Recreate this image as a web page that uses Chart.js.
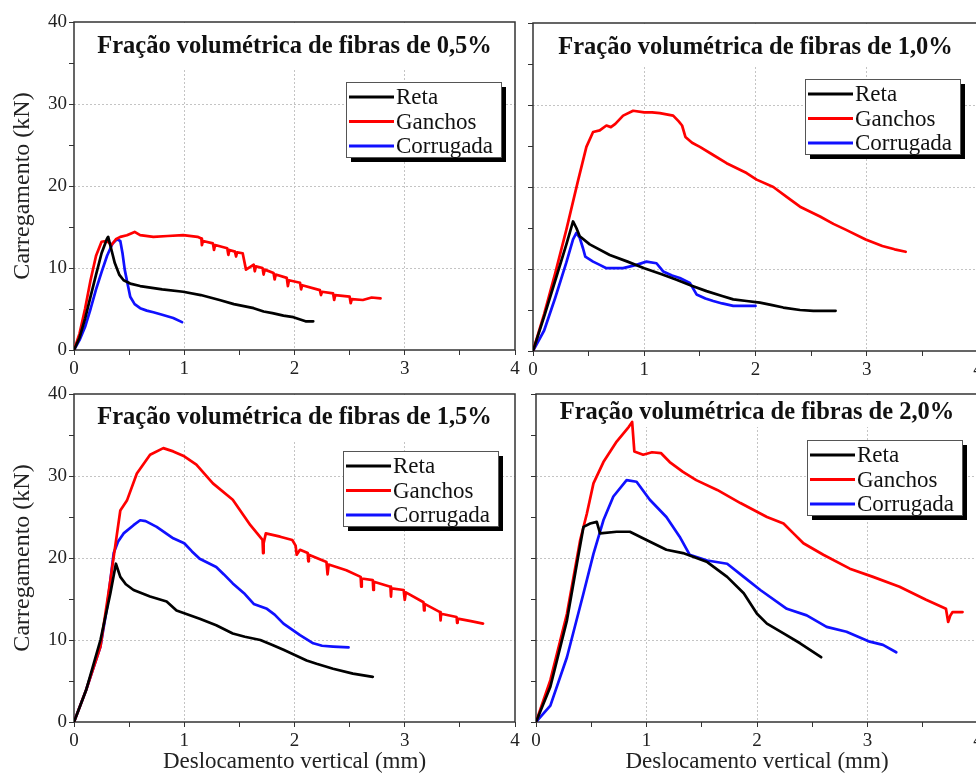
<!DOCTYPE html>
<html>
<head>
<meta charset="utf-8">
<script src="https://cdn.jsdelivr.net/npm/chart.js@4"></script>
<style>
  html, body { margin: 0; padding: 0; background: #fff; overflow: hidden; }
  #wrap { position: relative; width: 976px; height: 780px; overflow: hidden; }
  #wrap canvas { position: absolute; }
</style>
</head>
<body>
<div id="wrap">
  <canvas id="c05" width="530" height="385" style="left:0;top:0"></canvas>
  <canvas id="c10" width="460" height="385" style="left:520px;top:0"></canvas>
  <canvas id="c15" width="530" height="395" style="left:0;top:385px"></canvas>
  <canvas id="c20" width="460" height="395" style="left:520px;top:385px"></canvas>
</div>
<script>
// series names and colours
const seriesNames = ['Reta', 'Ganchos', 'Corrugada'];
const seriesColors = ['#000000', '#ff0000', '#1010ff'];

// [deslocamento (mm), carga (kN)] — 0,5%
const reta05 = [[0,0],[0.05,1.5],[0.1,3.8],[0.15,6.5],[0.2,9.2],[0.25,11.8],[0.3,13.6],[0.31,13.8],[0.34,12.2],[0.37,10.6],[0.41,9.2],[0.45,8.5],[0.51,8.1],[0.6,7.8],[0.8,7.4],[0.99,7.1],[1.15,6.7],[1.32,6.1],[1.45,5.6],[1.63,5.1],[1.72,4.7],[1.8,4.5],[1.9,4.2],[1.99,4.0],[2.1,3.5],[2.17,3.5]];
const ganchos05 = [[0,0],[0.05,2],[0.1,5],[0.15,8.5],[0.2,11.5],[0.25,13.2],[0.3,13.3],[0.34,12.8],[0.38,13.5],[0.42,13.8],[0.48,14.0],[0.55,14.4],[0.6,14.0],[0.72,13.8],[0.85,13.9],[0.99,14.0],[1.12,13.8],[1.155,13.6],[1.16,12.8],[1.17,13.3],[1.26,13.0],[1.27,12.2],[1.28,12.8],[1.39,12.4],[1.40,11.6],[1.41,12.2],[1.46,12.0],[1.47,11.4],[1.48,11.9],[1.53,11.8],[1.56,9.8],[1.63,10.4],[1.64,9.6],[1.65,10.2],[1.71,10.0],[1.72,9.2],[1.73,9.8],[1.81,9.4],[1.82,8.6],[1.83,9.2],[1.93,8.8],[1.94,7.8],[1.95,8.5],[2.05,8.2],[2.06,7.4],[2.07,7.9],[2.23,7.3],[2.24,6.7],[2.25,7.1],[2.35,6.9],[2.36,6.1],[2.37,6.7],[2.5,6.5],[2.51,5.7],[2.52,6.2],[2.62,6.1],[2.7,6.4],[2.78,6.3]];
const corrugada05 = [[0,0],[0.05,1.2],[0.1,2.8],[0.15,5],[0.2,7.4],[0.25,9.5],[0.3,11.5],[0.35,13],[0.39,13.5],[0.42,13.3],[0.44,11.8],[0.46,9.8],[0.49,7.8],[0.51,6.5],[0.55,5.6],[0.6,5.1],[0.66,4.8],[0.72,4.6],[0.8,4.3],[0.9,3.9],[0.98,3.4]];

// 1,0%
const reta10 = [[0,0],[0.1,4.2],[0.2,8.6],[0.3,13],[0.36,15.8],[0.39,15],[0.42,14],[0.51,13],[0.69,11.7],[0.85,10.9],[1.0,10.1],[1.15,9.4],[1.29,8.7],[1.42,8],[1.56,7.3],[1.7,6.7],[1.8,6.3],[1.92,6.1],[2.04,5.9],[2.15,5.6],[2.25,5.3],[2.4,5.0],[2.52,4.9],[2.72,4.9]];
const ganchos10 = [[0,0],[0.1,4.5],[0.2,9.5],[0.3,14.8],[0.4,20.5],[0.48,24.9],[0.54,26.7],[0.6,26.9],[0.66,27.5],[0.7,27.3],[0.74,27.7],[0.81,28.7],[0.9,29.3],[1.0,29.1],[1.07,29.1],[1.14,29.0],[1.26,28.7],[1.31,28.0],[1.34,27.5],[1.37,26.1],[1.43,25.4],[1.5,24.9],[1.62,23.9],[1.74,22.9],[1.92,21.7],[2.01,20.9],[2.16,20.0],[2.28,18.8],[2.4,17.6],[2.58,16.4],[2.7,15.5],[2.81,14.8],[2.99,13.6],[3.14,12.8],[3.25,12.4],[3.35,12.1]];
const corrugada10 = [[0,0],[0.1,2.5],[0.2,6.5],[0.3,10.8],[0.36,13.6],[0.39,14.4],[0.42,13.8],[0.45,12.5],[0.47,11.5],[0.54,10.9],[0.6,10.5],[0.66,10.1],[0.81,10.1],[0.93,10.5],[1.02,10.9],[1.11,10.7],[1.17,9.7],[1.25,9.2],[1.32,8.9],[1.41,8.3],[1.47,6.9],[1.55,6.4],[1.62,6.1],[1.7,5.8],[1.8,5.5],[1.9,5.5],[2.0,5.5]];

// 1,5%
const reta15 = [[0,0],[0.11,3.9],[0.24,10],[0.33,15.7],[0.38,19.3],[0.42,17.7],[0.47,16.8],[0.54,16.1],[0.69,15.3],[0.84,14.7],[0.93,13.6],[1.14,12.6],[1.29,11.8],[1.44,10.8],[1.55,10.4],[1.69,10.0],[1.8,9.4],[1.9,8.8],[2.11,7.5],[2.2,7.1],[2.35,6.5],[2.53,5.9],[2.71,5.5]];
const ganchos15 = [[0,0],[0.11,3.9],[0.24,9.2],[0.33,17.3],[0.42,25.8],[0.48,27],[0.57,30.3],[0.69,32.6],[0.81,33.4],[0.9,33.0],[1.0,32.4],[1.11,31.4],[1.26,29.1],[1.44,27.1],[1.6,24.0],[1.71,22.2],[1.715,20.6],[1.72,21.8],[1.74,23.0],[1.87,22.6],[1.98,22.2],[2.01,21.5],[2.02,20.4],[2.05,21.0],[2.12,20.6],[2.125,19.6],[2.13,20.4],[2.29,19.5],[2.3,18.0],[2.31,19.2],[2.47,18.5],[2.6,17.7],[2.605,16.5],[2.61,17.5],[2.71,17.3],[2.715,16.1],[2.72,17.1],[2.87,16.5],[2.875,15.3],[2.88,16.3],[2.99,16.1],[3.0,14.9],[3.01,15.8],[3.17,14.6],[3.175,13.6],[3.18,14.4],[3.32,13.4],[3.325,12.4],[3.33,13.2],[3.47,12.8],[3.475,12.1],[3.48,12.6],[3.6,12.3],[3.71,12.0]];
const corrugada15 = [[0,0],[0.11,3.9],[0.24,9.2],[0.3,14],[0.36,20.6],[0.4,22],[0.45,23],[0.54,24],[0.6,24.6],[0.65,24.5],[0.75,23.8],[0.9,22.4],[1.0,21.8],[1.07,20.8],[1.14,19.9],[1.29,18.9],[1.36,18],[1.44,16.9],[1.55,15.6],[1.63,14.4],[1.75,13.8],[1.82,13.1],[1.9,12.0],[2.05,10.6],[2.17,9.6],[2.25,9.3],[2.35,9.2],[2.49,9.1]];

// 2,0%
const reta20 = [[0,0],[0.13,4.3],[0.28,12.4],[0.37,19.3],[0.43,23.8],[0.49,24.2],[0.55,24.4],[0.58,23.0],[0.73,23.2],[0.85,23.2],[1.0,22.2],[1.18,21.0],[1.33,20.6],[1.55,19.5],[1.73,17.7],[1.88,15.7],[2.0,13.2],[2.09,12.0],[2.24,10.8],[2.39,9.6],[2.58,7.9]];
const ganchos20 = [[0,0],[0.13,5.1],[0.28,13.2],[0.4,22.2],[0.46,25.4],[0.52,29.1],[0.61,31.7],[0.73,34.2],[0.84,36.0],[0.87,36.6],[0.89,33.0],[0.97,32.6],[1.05,32.9],[1.13,32.8],[1.21,31.7],[1.33,30.5],[1.45,29.5],[1.64,28.3],[1.85,26.7],[2.09,25.0],[2.24,24.2],[2.33,23.0],[2.42,21.8],[2.6,20.4],[2.84,18.7],[3.05,17.7],[3.29,16.5],[3.53,14.9],[3.71,13.8],[3.73,12.2],[3.75,13.0],[3.77,13.4],[3.86,13.4]];
const corrugada20 = [[0,0],[0.13,2.0],[0.28,7.9],[0.43,15.7],[0.52,20.5],[0.61,24.6],[0.7,27.5],[0.82,29.5],[0.91,29.3],[1.03,27.1],[1.18,25.0],[1.3,22.6],[1.39,20.4],[1.55,19.7],[1.73,19.3],[1.88,17.7],[2.03,16.1],[2.27,13.8],[2.45,13.0],[2.63,11.6],[2.81,11.0],[3.02,9.8],[3.14,9.4],[3.26,8.5]];

const FONT = "'Liberation Serif', 'Times New Roman', serif";
Chart.defaults.font.family = FONT;
Chart.defaults.color = '#222';

// frame, title band and boxed legend with drop shadow
const panelDeco = {
  id: 'panelDeco',
  beforeDatasetsDraw(chart, args, o) {
    const {ctx, chartArea: a} = chart;
    ctx.save();
    ctx.fillStyle = '#fff';
    ctx.fillRect(a.left + 1, a.top + 1, a.right - a.left - 2, o.band);
    ctx.strokeStyle = '#333';
    ctx.lineWidth = 1.5;
    ctx.strokeRect(a.left, a.top, a.right - a.left, a.bottom - a.top);
    ctx.restore();
  },
  afterDatasetsDraw(chart, args, o) {
    const {ctx, chartArea: a} = chart;
    ctx.save();
    ctx.font = 'bold 24.5px ' + FONT;
    ctx.fillStyle = '#111';
    ctx.textAlign = 'center';
    ctx.textBaseline = 'middle';
    ctx.fillText(o.text, (a.left + a.right) / 2, a.top + o.titleY);

    const w = 155, h = 75;
    const x = a.right - o.legendRight - w;
    const y = a.top + o.legendTop;
    ctx.fillStyle = '#000';
    ctx.fillRect(x + 5, y + 5, w, h);
    ctx.fillStyle = '#fff';
    ctx.fillRect(x, y, w, h);
    ctx.strokeStyle = '#555';
    ctx.lineWidth = 1;
    ctx.strokeRect(x + 0.5, y + 0.5, w, h);
    ctx.font = '23px ' + FONT;
    ctx.textAlign = 'left';
    chart.data.datasets.forEach((ds, i) => {
      const ly = y + 15 + i * 24.5;
      ctx.strokeStyle = ds.borderColor;
      ctx.lineWidth = 3;
      ctx.beginPath();
      ctx.moveTo(x + 3, ly);
      ctx.lineTo(x + 48, ly);
      ctx.stroke();
      ctx.fillStyle = '#111';
      ctx.fillText(ds.label, x + 50, ly + 1);
    });
    ctx.restore();
  }
};

function gridColor(step, lo, hi) {
  return c => {
    const v = c.tick ? c.tick.value : NaN;
    return (v % step === 0 && v > lo && v < hi) ? '#c4c4c4' : 'rgba(0,0,0,0)';
  };
}

function drawPanel(p) {
  const datasets = [p.reta, p.ganchos, p.corrugada].map((pts, i) => ({
    label: seriesNames[i],
    data: pts.map(([x, y]) => ({x, y})),
    borderColor: seriesColors[i],
    borderWidth: 2.7,
    borderJoinStyle: 'round',
    borderCapStyle: 'round',
    showLine: true,
    pointRadius: 0,
    tension: 0
  }));
  new Chart(document.getElementById(p.id), {
    type: 'scatter',
    data: {datasets},
    options: {
      responsive: false,
      animation: false,
      layout: {padding: {top: p.padTop, right: p.padRight, left: 0, bottom: 0}},
      plugins: {
        legend: {display: false},
        tooltip: {enabled: false},
        panelDeco: {text: p.title, band: p.band, titleY: p.titleY, legendTop: p.legendTop, legendRight: p.legendRight}
      },
      scales: {
        x: {
          type: 'linear', min: 0, max: 4,
          border: {display: false, dash: [2, 2]},
          grid: {color: gridColor(1, 0, 4), tickColor: '#333', tickLength: 5, lineWidth: 1},
          ticks: {stepSize: 0.5, autoSkip: false, maxRotation: 0, padding: 3, font: {size: 19},
                  callback: v => Number.isInteger(v) ? String(v) : ''},
          title: {display: p.xTitle, text: 'Deslocamento vertical (mm)', font: {size: 23}, padding: {top: 0, bottom: 4}},
          afterFit: s => { s.height = p.xHeight; s.paddingLeft = 0; s.paddingRight = 0; }
        },
        y: {
          min: 0, max: 40,
          border: {display: false, dash: [2, 2]},
          grid: {color: gridColor(10, 0, 40), tickColor: '#333', tickLength: 5, lineWidth: 1},
          ticks: {stepSize: 5, autoSkip: false, padding: 2, font: {size: 19},
                  callback: v => (p.yLabels && v % 10 === 0) ? String(v) : ''},
          title: {display: p.yLabels, text: 'Carregamento (kN)', font: {size: 24}, padding: {top: 8, bottom: 0}},
          afterFit: s => { s.width = p.yWidth; s.paddingTop = 0; s.paddingBottom = 0; }
        }
      }
    },
    plugins: [panelDeco]
  });
}

drawPanel({id: 'c05', title: 'Fração volumétrica de fibras de 0,5%', reta: reta05, ganchos: ganchos05, corrugada: corrugada05,
  yLabels: true, xTitle: false, yWidth: 74, xHeight: 35, padTop: 22, padRight: 15, band: 46, titleY: 25, legendTop: 60, legendRight: 14});
drawPanel({id: 'c10', title: 'Fração volumétrica de fibras de 1,0%', reta: reta10, ganchos: ganchos10, corrugada: corrugada10,
  yLabels: false, xTitle: false, yWidth: 13, xHeight: 34, padTop: 23, padRight: 2, band: 43, titleY: 25, legendTop: 56, legendRight: 18});
drawPanel({id: 'c15', title: 'Fração volumétrica de fibras de 1,5%', reta: reta15, ganchos: ganchos15, corrugada: corrugada15,
  yLabels: true, xTitle: true, yWidth: 74, xHeight: 58, padTop: 9, padRight: 15, band: 45, titleY: 24, legendTop: 57, legendRight: 17});
drawPanel({id: 'c20', title: 'Fração volumétrica de fibras de 2,0%', reta: reta20, ganchos: ganchos20, corrugada: corrugada20,
  yLabels: false, xTitle: true, yWidth: 16, xHeight: 58, padTop: 9, padRight: 2, band: 32, titleY: 19, legendTop: 46, legendRight: 16});
</script>
</body>
</html>
